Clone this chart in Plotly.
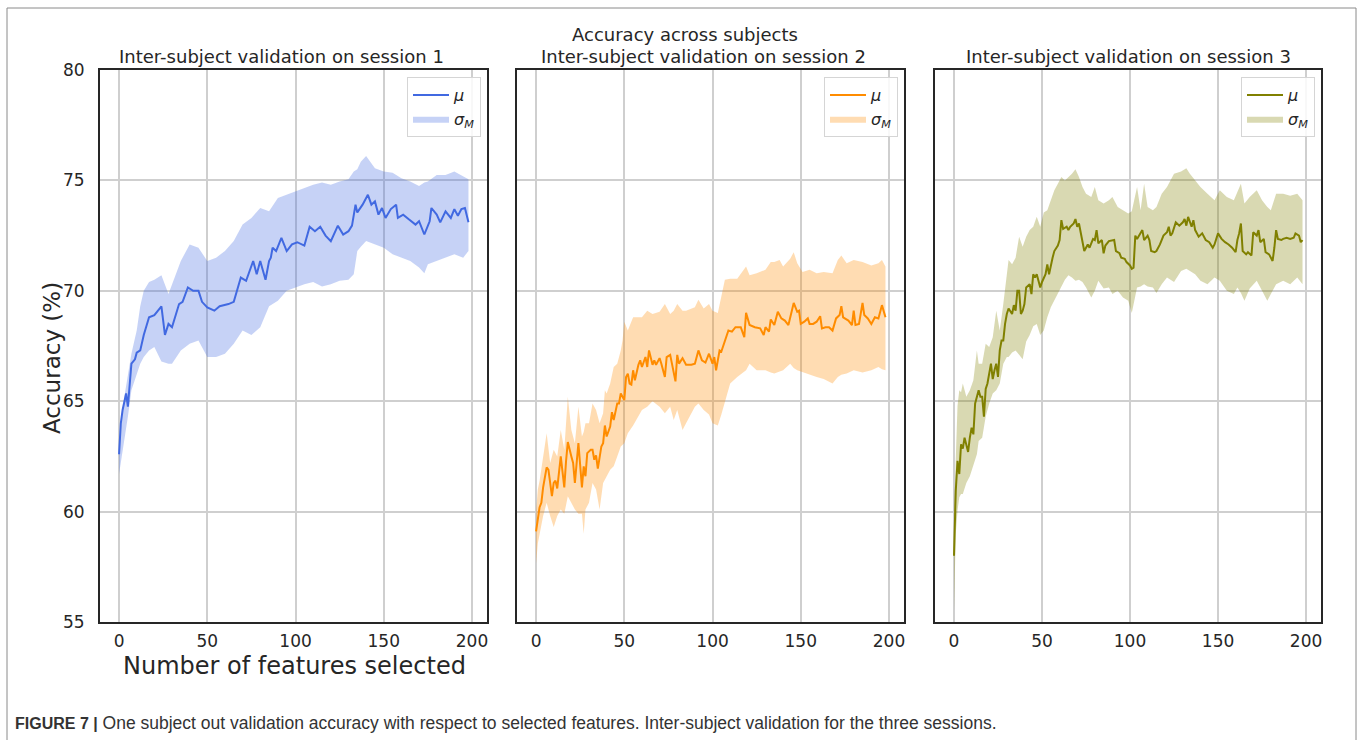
import plotly.graph_objects as go

# ---------------- data ----------------
x_mu1 = [0, 1, 2, 4, 5, 7, 9, 10, 12, 14, 17, 20, 24, 26, 28, 30, 34, 36, 39, 42, 45, 47, 50, 54, 57, 62, 65, 67,
         69, 72, 76, 78, 80, 83, 85, 86, 87, 89, 92, 95, 98, 101, 105, 108, 111, 114, 117, 120, 124, 127, 130, 132,
         134, 135, 138, 141, 143, 145, 147, 149, 151, 154, 157, 158, 161, 164, 168, 170, 173, 176, 177, 180, 182,
         185, 188, 190, 192, 194, 196, 198]
mu1 = [62.6, 64.0, 64.6, 65.35, 64.75, 66.7, 66.9, 67.2, 67.3, 68.0, 68.8, 68.9, 69.3, 68.0, 68.5, 68.35, 69.4, 69.5,
       70.15, 70.0, 70.0, 69.5, 69.25, 69.1, 69.3, 69.4, 69.5, 70.0, 70.6, 70.45, 71.35, 70.75, 71.35, 70.5, 71.35,
       71.5, 71.95, 71.8, 72.4, 71.8, 72.1, 72.2, 72.05, 72.9, 72.7, 72.9, 72.5, 72.25, 72.95, 72.55, 72.7, 72.95,
       73.9, 73.55, 73.9, 74.35, 73.9, 74.05, 73.45, 73.75, 73.3, 73.7, 73.9, 73.3, 73.45, 73.25, 73.0, 73.15, 72.55,
       73.15, 73.75, 73.45, 73.1, 73.6, 73.3, 73.7, 73.4, 73.7, 73.75, 73.1]

x_band1 = [0, 1, 3, 5, 7, 10, 12, 14, 17, 20, 24, 28, 30, 35, 40, 45, 50, 55, 60, 65, 70, 75, 80, 85, 90, 95, 100,
           105, 110, 115, 120, 125, 130, 133, 135, 137, 140, 145, 150, 155, 160, 165, 170, 173, 175, 180, 185, 190,
           195, 198]
upper1 = [62.9, 63.8, 65.2, 66.2, 67.15, 68.2, 69.3, 70.0, 70.4, 70.5, 70.7, 69.85, 70.3, 71.35, 72.1, 71.95, 71.35,
          71.5, 71.8, 72.25, 73.0, 73.3, 73.75, 73.6, 74.2, 74.35, 74.5, 74.65, 74.8, 74.9, 74.8, 74.95, 75.05, 75.4,
          75.5, 75.85, 76.1, 75.55, 75.4, 75.35, 75.1, 74.95, 74.75, 74.9, 74.95, 75.25, 75.25, 75.4, 75.2, 75.05]
lower1 = [61.7, 62.3, 63.2, 64.3, 65.5, 66.2, 66.7, 67.0, 67.3, 67.45, 66.8, 66.7, 66.7, 67.3, 67.6, 67.75, 67.0,
          67.0, 67.15, 67.6, 68.2, 68.0, 68.35, 69.3, 69.55, 70.0, 70.15, 70.3, 70.4, 70.2, 70.3, 70.45, 70.5, 70.75,
          71.8, 72.0, 72.25, 72.1, 71.95, 71.65, 71.5, 71.35, 71.05, 70.8, 71.2, 71.35, 71.5, 71.65, 71.5, 71.8]

x_mu2 = [0, 1, 2, 3, 4, 6, 7, 9, 10, 11, 12, 14, 16, 17, 18, 20, 21, 22, 23, 24, 26, 27, 28, 29, 31, 32, 33, 34, 35,
         37, 38, 39, 40, 42, 43, 44, 46, 47, 48, 50, 51, 52, 53, 54, 55, 56, 58, 59, 60, 62, 63, 64, 66, 67, 68, 70,
         71, 73, 74, 76, 77, 79, 80, 81, 83, 85, 88, 90, 92, 94, 96, 98, 100, 101, 102, 104, 105, 107, 109, 111, 113,
         116, 118, 119, 121, 124, 127, 129, 130, 132, 133, 135, 137, 139, 141, 143, 145, 146, 148, 149, 150, 152, 154,
         155, 157, 159, 161, 162, 164, 166, 168, 170, 172, 173, 174, 177, 179, 180, 181, 183, 185, 186, 188, 190, 192,
         194, 196, 198]
mu2 = [59.1, 59.6, 60.2, 60.4, 61.1, 62.0, 61.9, 60.7, 61.3, 61.4, 61.05, 62.5, 61.1, 62.3, 63.15, 62.5, 62.2, 61.3,
       62.05, 63.1, 61.1, 62.05, 61.6, 62.65, 62.8, 62.8, 62.35, 62.55, 61.95, 62.95, 63.1, 63.9, 63.4, 63.85, 64.5,
       64.15, 64.9, 64.9, 65.35, 65.05, 66.1, 66.25, 65.8, 65.75, 66.4, 65.95, 66.65, 66.85, 66.55, 67.0, 66.55, 67.3,
       66.65, 66.85, 66.65, 66.95, 66.7, 66.1, 67.0, 67.1, 66.7, 65.9, 67.1, 66.7, 66.95, 66.65, 66.65, 66.7, 67.3,
       66.85, 66.75, 67.15, 66.7, 67.0, 66.4, 67.3, 67.25, 67.7, 68.2, 68.15, 68.35, 68.35, 67.9, 69.0, 68.45, 68.35,
       68.3, 68.0, 68.35, 68.15, 68.7, 68.45, 69.05, 68.75, 68.65, 68.45, 69.1, 69.45, 69.05, 69.1, 68.5, 68.6, 68.75,
       68.5, 68.5, 68.6, 68.85, 68.3, 68.35, 68.35, 68.2, 68.75, 68.9, 69.3, 68.8, 68.65, 68.45, 69.1, 68.45, 68.5,
       69.45, 68.9, 68.75, 68.5, 68.8, 68.75, 69.35, 68.8]

x_band2 = [0, 1, 2, 4, 6, 8, 10, 12, 14, 16, 18, 20, 22, 24, 26, 27, 28, 30, 32, 34, 36, 38, 39, 40, 42, 44, 46, 48,
           49, 50, 52, 55, 60, 63, 66, 70, 73, 76, 78, 80, 83, 85, 90, 92, 95, 98, 100, 103, 105, 107, 110, 114, 119,
           121, 125, 130, 133, 135, 138, 140, 144, 146, 148, 151, 155, 159, 163, 168, 171, 173, 176, 180, 185, 190,
           194, 196, 198]
upper2 = [60.0, 61.0, 61.4, 62.5, 63.55, 62.2, 62.8, 62.5, 63.7, 62.8, 65.2, 63.7, 63.1, 64.75, 63.4, 63.6, 64.0,
          64.0, 64.9, 64.6, 64.0, 64.45, 65.5, 65.35, 65.8, 66.55, 66.7, 67.3, 67.75, 68.6, 68.2, 68.8, 68.8, 69.1,
          68.95, 69.05, 69.4, 68.95, 69.1, 69.4, 69.1, 69.1, 69.25, 69.6, 69.2, 69.4, 69.1, 69.0, 69.8, 70.5, 70.55,
          70.55, 71.1, 70.7, 70.8, 70.95, 71.3, 71.3, 71.4, 71.1, 71.45, 71.75, 71.25, 70.85, 70.95, 70.8, 70.85, 70.8,
          71.4, 71.6, 71.25, 71.4, 71.3, 71.15, 71.25, 71.4, 71.1]
lower2 = [57.65, 58.55, 59.0, 59.8, 60.4, 59.8, 59.3, 59.8, 60.1, 59.9, 60.7, 60.4, 60.1, 59.9, 59.9, 59.0, 60.1, 60.4,
          61.3, 61.0, 60.1, 61.3, 61.5, 61.6, 61.9, 62.05, 62.5, 62.95, 63.0, 63.1, 63.55, 63.9, 64.6, 64.75, 65.0,
          64.75, 64.45, 64.75, 64.15, 64.6, 63.7, 64.0, 64.75, 64.9, 64.6, 64.4, 64.0, 63.9, 64.4, 64.9, 65.8, 66.1,
          66.4, 66.7, 66.4, 66.4, 66.3, 66.25, 66.35, 66.4, 66.7, 66.5, 66.4, 66.3, 66.2, 66.1, 66.0, 65.8, 66.1, 66.2,
          66.25, 66.4, 66.3, 66.4, 66.55, 66.45, 66.4]

x_mu3 = [0, 1, 2, 3, 4, 5, 6, 7, 8, 9, 10, 11, 12, 14, 15, 16, 17, 18, 19, 21, 22, 23, 24, 25, 26, 27, 28, 29, 30,
         31, 33, 34, 35, 36, 37, 38, 39, 40, 41, 43, 44, 45, 46, 47, 48, 49, 50, 52, 53, 54, 56, 57, 59, 60, 61, 62,
         64, 65, 66, 68, 69, 70, 71, 73, 74, 76, 77, 79, 80, 81, 82, 84, 85, 86, 88, 91, 92, 94, 95, 97, 98, 100, 101,
         102, 103, 104, 106, 107, 108, 110, 111, 112, 114, 115, 117, 119, 121, 122, 123, 124, 126, 128, 130, 131, 132,
         133, 135, 136, 137, 139, 141, 143, 145, 147, 148, 150, 152, 154, 156, 158, 160, 161, 162, 163, 164, 166, 167,
         169, 170, 172, 173, 174, 176, 177, 179, 181, 182, 183, 184, 186, 187, 189, 191, 193, 194, 196, 197, 198]
mu3 = [58.0, 60.95, 62.3, 61.7, 63.05, 62.85, 63.35, 63.05, 62.7, 63.35, 63.8, 63.5, 64.9, 65.5, 65.2, 65.2, 64.3,
       65.55, 65.8, 66.7, 66.0, 66.4, 66.7, 66.1, 67.3, 67.75, 67.75, 68.5, 68.95, 69.2, 68.95, 69.35, 69.1, 70.0,
       70.0, 68.95, 69.1, 69.4, 70.15, 70.3, 69.85, 70.75, 70.6, 70.75, 70.45, 70.15, 70.4, 70.75, 71.2, 70.75, 71.5,
       71.8, 72.05, 72.3, 73.2, 72.8, 72.9, 72.75, 72.9, 73.05, 73.25, 72.9, 73.05, 72.3, 71.8, 72.1, 71.95, 72.35,
       72.3, 72.75, 72.15, 72.3, 71.7, 72.05, 72.25, 72.3, 71.8, 71.7, 71.5, 71.45, 71.3, 71.15, 71.0, 71.05, 72.5,
       72.35, 72.6, 72.75, 72.3, 72.5, 72.3, 71.8, 71.75, 71.8, 72.1, 72.5, 72.65, 72.9, 72.5, 72.6, 73.1, 72.95, 73.1,
       73.25, 72.95, 73.35, 72.9, 73.2, 72.75, 72.45, 72.6, 72.3, 72.2, 71.95, 72.1, 72.6, 72.35, 72.2, 72.1, 71.95,
       71.75, 72.3, 72.6, 73.05, 71.8, 71.65, 71.75, 71.6, 72.65, 72.5, 72.75, 72.2, 72.35, 71.75, 71.65, 71.35, 71.95,
       72.75, 72.35, 72.3, 72.35, 72.4, 72.35, 72.4, 72.6, 72.5, 72.2, 72.3]

x_band3 = [0, 1, 2, 3, 4, 5, 7, 9, 11, 13, 14, 16, 18, 20, 22, 24, 26, 28, 30, 31, 33, 35, 37, 39, 41, 43, 45, 47,
           49, 51, 53, 55, 57, 59, 61, 63, 65, 67, 69, 71, 73, 75, 78, 80, 82, 85, 88, 90, 93, 96, 99, 101, 104, 106,
           108, 110, 113, 115, 118, 121, 125, 129, 132, 134, 137, 140, 144, 148, 151, 155, 159, 161, 163, 165, 168,
           172, 175, 178, 180, 183, 187, 191, 195, 198]
upper3 = [60.0, 62.75, 64.8, 65.5, 65.4, 65.8, 65.2, 65.5, 65.95, 67.3, 66.7, 66.7, 67.6, 67.45, 67.9, 69.1, 68.2,
          69.4, 70.6, 71.4, 71.2, 71.5, 72.45, 72.0, 72.45, 72.75, 72.9, 73.35, 72.9, 73.55, 73.65, 74.1, 74.55, 74.85,
          75.15, 75.0, 75.15, 75.3, 75.5, 75.15, 74.7, 74.4, 74.25, 74.7, 74.1, 73.95, 74.1, 74.25, 73.8, 73.65, 73.5,
          73.6, 74.7, 73.65, 74.85, 73.8, 73.65, 73.8, 74.4, 74.7, 75.3, 75.4, 75.55, 75.3, 75.0, 74.7, 74.4, 74.1,
          74.55, 74.25, 74.1, 74.5, 74.85, 73.95, 74.25, 74.55, 74.1, 73.8, 73.65, 74.4, 74.4, 74.3, 74.4, 74.1]
lower3 = [55.5, 59.0, 60.05, 60.65, 60.8, 60.8, 61.3, 61.6, 62.1, 62.6, 63.2, 63.35, 64.3, 64.9, 65.35, 65.5, 65.8,
          66.7, 67.0, 67.0, 67.2, 67.3, 67.1, 66.9, 67.7, 68.0, 68.4, 68.5, 68.0, 68.2, 68.8, 69.25, 69.55, 69.85,
          70.2, 70.5, 70.7, 70.6, 70.45, 70.5, 70.4, 70.15, 69.7, 70.0, 70.45, 70.1, 70.15, 69.85, 70.0, 69.7, 69.55,
          69.0, 70.15, 70.2, 70.3, 70.2, 70.15, 69.9, 70.3, 70.6, 70.4, 70.9, 71.0, 70.9, 70.75, 70.45, 70.3, 70.6,
          70.45, 70.0, 69.85, 70.15, 69.9, 69.55, 70.1, 70.45, 70.0, 69.55, 69.85, 70.3, 70.45, 70.3, 70.6, 70.3]

titles = ["Inter-subject validation on session 1",
          "Inter-subject validation on session 2",
          "Inter-subject validation on session 3"]
x_ticks = [0, 50, 100, 150, 200]
y_ticks = [55, 60, 65, 70, 75, 80]

# ---------------- styling ----------------
W, H = 1360, 740
FONT = "DejaVu Sans"
TXT = "#262626"
line_colors = ["#4169e1", "#ff8c00", "#808000"]
fill_colors = ["rgba(65,105,225,0.3)", "rgba(255,140,0,0.3)", "rgba(128,128,0,0.3)"]

panels = [(100, 487), (517, 904), (935, 1321)]
title_centers = [281, 703, 1128]
top_px, bot_px = 70, 622

series = [(x_mu1, mu1, x_band1, upper1, lower1),
          (x_mu2, mu2, x_band2, upper2, lower2),
          (x_mu3, mu3, x_band3, upper3, lower3)]

fig = go.Figure()
layout = dict(
    width=W, height=H, margin=dict(l=0, r=0, t=0, b=0, pad=0, autoexpand=False),
    paper_bgcolor="white", plot_bgcolor="white",
    font=dict(family=FONT, color=TXT, size=15),
    showlegend=True,
)

legend_names = ["legend", "legend2", "legend3"]
annotations = []
for i, (xm, ym, xb, up, lo) in enumerate(series):
    sfx = "" if i == 0 else str(i + 1)
    xa, ya = "x" + sfx, "y" + sfx
    lg = legend_names[i]
    fig.add_trace(go.Scatter(
        x=xb + xb[::-1], y=up + lo[::-1], fill="toself", fillcolor=fill_colors[i],
        mode="lines", line=dict(width=0, color=fill_colors[i]),
        name="<i>σ</i><sub><i>M</i></sub>", xaxis=xa, yaxis=ya, legend=lg, legendrank=2,
        hoverinfo="skip"))
    fig.add_trace(go.Scatter(
        x=xm, y=ym, mode="lines", line=dict(color=line_colors[i], width=2),
        name="<i>μ</i>", xaxis=xa, yaxis=ya, legend=lg, legendrank=1))

    l, r = panels[i]
    layout["xaxis" + sfx] = dict(
        domain=[l / W, r / W], range=[-10.8, 208.5], anchor=ya, automargin=False,
        tickvals=x_ticks, showgrid=True, gridcolor="#cfcfcf", gridwidth=1.5,
        showline=True, linecolor="#262626", linewidth=2, mirror=True,
        ticks="", zeroline=False, tickfont=dict(size=17, color=TXT),
        ticklabelstandoff=3)
    layout["yaxis" + sfx] = dict(
        domain=[1 - bot_px / H, 1 - top_px / H], range=[55, 80], anchor=xa, automargin=False,
        tickvals=y_ticks, showticklabels=(i == 0), showgrid=True, gridcolor="#cfcfcf",
        gridwidth=1.5, showline=True, linecolor="#262626", linewidth=2, mirror=True,
        ticks="", zeroline=False, tickfont=dict(size=17, color=TXT),
        ticklabelstandoff=10)
    layout[lg] = dict(
        x=(r - 6) / W, y=1 - (top_px + 7) / H, xanchor="right", yanchor="top",
        bgcolor="rgba(255,255,255,0.85)", bordercolor="#d5d5d5", borderwidth=1,
        font=dict(size=16, color=TXT), itemwidth=36, tracegroupgap=0)
    annotations.append(dict(
        text=titles[i], x=title_centers[i] / W, y=1 - 56 / H, xref="paper", yref="paper",
        showarrow=False, font=dict(size=18, color=TXT), xanchor="center", yanchor="middle"))

annotations += [
    dict(text="Accuracy across subjects", x=685 / W, y=1 - 35 / H, xref="paper", yref="paper",
         showarrow=False, font=dict(size=18, color=TXT), xanchor="center", yanchor="middle"),
    dict(text="Number of features selected", x=294 / W, y=1 - 666 / H, xref="paper", yref="paper",
         showarrow=False, font=dict(size=24, color=TXT), xanchor="center", yanchor="middle"),
    dict(text="Accuracy (%)", x=52 / W, y=1 - 358 / H, xref="paper", yref="paper", textangle=-90,
         showarrow=False, font=dict(size=23, color=TXT), xanchor="center", yanchor="middle"),
    dict(text="<b><span style='font-size:16px'>FIGURE 7 |</span></b> One subject out validation accuracy "
              "with respect to selected features. Inter-subject validation for the three sessions.",
         x=13 / W, y=1 - 723 / H, xref="paper", yref="paper", showarrow=False,
         font=dict(family="Liberation Sans", size=17.5, color="#333333"), xanchor="left", yanchor="middle"),
]
layout["annotations"] = annotations
layout["shapes"] = [dict(type="rect", xref="paper", yref="paper",
                         x0=7 / W, x1=1356 / W, y0=-0.02, y1=1 - 8 / H,
                         line=dict(color="#8a8a8a", width=1))]

fig.update_layout(**layout)
fig.write_html("out.html")
